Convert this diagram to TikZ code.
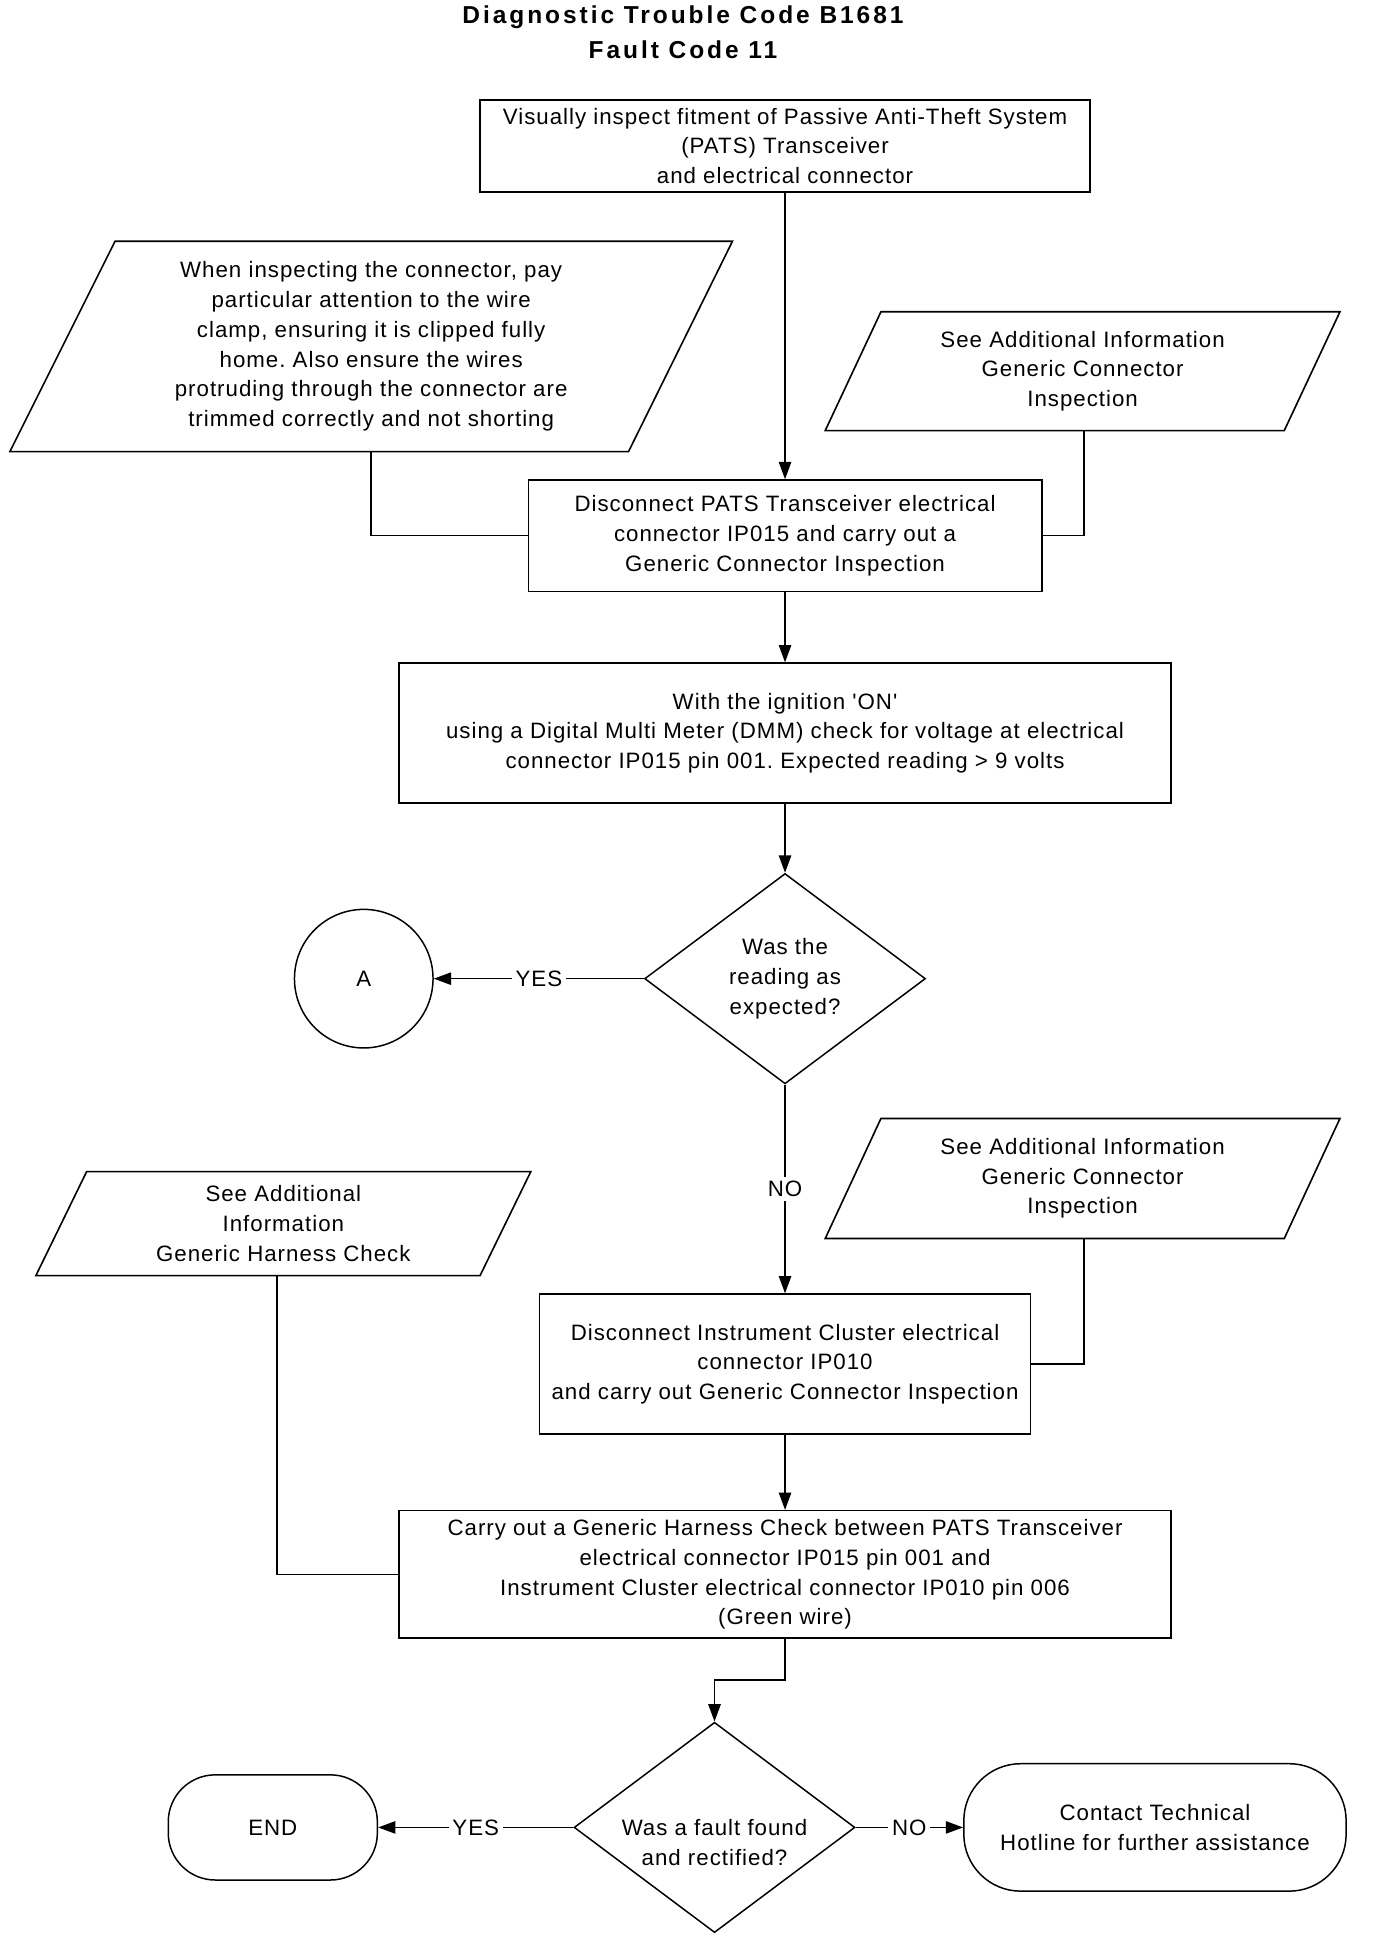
\documentclass[tikz,border=0pt]{standalone}
\usepackage{fontspec}
\setmainfont{Liberation Sans}[LetterSpace=4.5, Ligatures=TeXOff]
\newfontfamily\titlefont{Liberation Sans}[LetterSpace=12, Ligatures=TeXOff]
\usetikzlibrary{arrows.meta,shapes.geometric,calc}
\frenchspacing
\begin{document}
\begin{tikzpicture}[x=1pt,y=-1pt,
  every node/.style={font=\fontsize{18}{24}\selectfont, inner sep=0pt},
  box/.style={draw, line width=1.3pt, rectangle, align=center},
  ln/.style={line width=1.2pt},
  arr/.style={line width=1.2pt, -{Triangle[length=14pt,width=10pt]}},
  lbl/.style={fill=white, inner sep=3pt},
  para/.style={draw, line width=1.3pt, line join=miter},
  dia/.style={draw, diamond, line width=1.2pt, minimum width=227pt, minimum height=170pt, align=center},
  term/.style={draw, line width=1.2pt, align=center},
]
\useasboundingbox (0,0) rectangle (1112,1568);
\fill[white] (0,0) rectangle (1112,1568);

% title
\node[font=\titlefont\bfseries\fontsize{19.8}{28}\selectfont, align=center] (title) at (552,26) {Diagnostic Trouble Code B1681\\Fault Code 11};

% boxes
\node[box, minimum width=493pt, minimum height=74pt] (b1) at (634.5,118) {Visually inspect fitment of Passive Anti-Theft System\\(PATS) Transceiver\\and electrical connector};
\node[box, minimum width=415pt, minimum height=90pt] (b2) at (634.5,433) {Disconnect PATS Transceiver electrical\\connector IP015 and carry out a\\Generic Connector Inspection};
\node[box, minimum width=624pt, minimum height=113pt] (b3) at (634.5,592.5) {With the ignition 'ON'\\using a Digital Multi Meter (DMM) check for voltage at electrical\\connector IP015 pin 001. Expected reading > 9 volts};
\node[dia] (d1) at (634.5,791) {Was the\\reading as\\expected?};
\node[draw, circle, line width=1.2pt, minimum size=112pt] (A) at (294,791) {A};
\node[box, minimum width=397pt, minimum height=113pt] (b4) at (634.5,1102.5) {Disconnect Instrument Cluster electrical\\connector IP010\\and carry out Generic Connector Inspection};
\node[box, minimum width=624pt, minimum height=103pt] (b5) at (634.5,1272.5) {Carry out a Generic Harness Check between PATS Transceiver\\electrical connector IP015 pin 001 and\\Instrument Cluster electrical connector IP010 pin 006\\(Green wire)};
\node[dia] (d2) at (577.5,1477) {};
\node[align=center] (d2t) at (577.5,1489) {Was a fault found\\and rectified?};
\node[term, rounded corners=38pt, minimum width=169pt, minimum height=85pt] (end) at (220.5,1477) {END};
\node[term, rounded corners=46pt, minimum width=309pt, minimum height=103pt] (ct) at (933.5,1477) {Contact Technical\\Hotline for further assistance};

% notes (parallelograms)
\node[align=center] (n1) at (300,280) {When inspecting the connector, pay\\particular attention to the wire\\clamp, ensuring it is clipped fully\\home. Also ensure the wires\\protruding through the connector are\\trimmed correctly and not shorting};
\draw[para] ($(n1)+(-207,-85)$) -- ($(n1)+(292,-85)$) -- ($(n1)+(208,85)$) -- ($(n1)+(-292,85)$) -- cycle;
\coordinate (n1b) at ($(n1)+(0,85)$);

\node[align=center] (n2) at (875,300) {See Additional Information\\Generic Connector\\Inspection};
\draw[para] ($(n2)+(-163,-48)$) -- ($(n2)+(208,-48)$) -- ($(n2)+(163,48)$) -- ($(n2)+(-208,48)$) -- cycle;
\coordinate (n2b) at ($(n2)+(1,48)$);

\node[align=center] (n3) at (875,952.5) {See Additional Information\\Generic Connector\\Inspection};
\draw[para] ($(n3)+(-163,-48.5)$) -- ($(n3)+(208,-48.5)$) -- ($(n3)+(163,48.5)$) -- ($(n3)+(-208,48.5)$) -- cycle;
\coordinate (n3b) at ($(n3)+(1,48.5)$);

\node[align=center] (n4) at (229,989) {See Additional\\Information\\Generic Harness Check};
\draw[para] ($(n4)+(-159,-42)$) -- ($(n4)+(200,-42)$) -- ($(n4)+(159,42)$) -- ($(n4)+(-200,42)$) -- cycle;
\coordinate (n4b) at ($(n4)+(-5,42)$);

% connectors
\draw[arr] (b1.south) -- (b2.north);
\draw[ln] (n1b) |- (b2.west);
\draw[ln] (n2b) |- (b2.east);
\draw[arr] (b2.south) -- (b3.north);
\draw[arr] (b3.south) -- (d1.north);
\draw[arr] (d1.west) -- node[lbl]{YES} (A.east);
\draw[arr] (d1.south) -- node[lbl]{NO} (b4.north);
\draw[ln] (n3b) |- (b4.east);
\draw[arr] (b4.south) -- (b5.north);
\draw[ln] (n4b) |- (b5.west);
\coordinate (k) at (634.5,1358);
\draw[arr] (b5.south) -- (k) -| (d2.north);
\draw[arr] (d2.west) -- node[lbl]{YES} (end.east);
\draw[arr] (d2.east) -- node[lbl]{NO} (ct.west);
\end{tikzpicture}
\end{document}
